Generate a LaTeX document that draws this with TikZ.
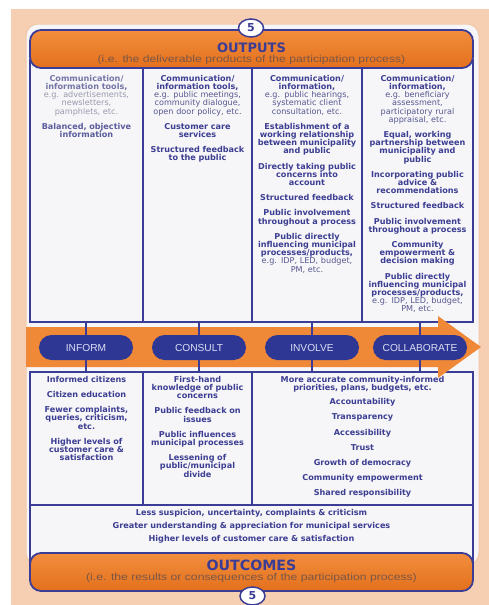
\documentclass[tikz,border=0pt]{standalone}
\usepackage{fontspec}
\usepackage{graphicx}
\setmainfont{Liberation Sans}
\newfontfamily\bodyface{DejaVu Sans}
\usetikzlibrary{shapes.geometric}

\definecolor{peach}{HTML}{F6CFB3}
\definecolor{panel}{HTML}{F6F5F8}
\definecolor{panelrim}{HTML}{F1C7A8}
\definecolor{rim}{HTML}{3A3C96}
\definecolor{pillblue}{HTML}{2E3894}
\definecolor{pilltext}{HTML}{DCDEF3}
\definecolor{ink}{HTML}{3C3E92}
\definecolor{inklight}{HTML}{7476A8}
\definecolor{inkmid}{HTML}{5A5C9C}
\definecolor{egcol}{HTML}{55588F}
\definecolor{eglight}{HTML}{9A9AAE}
\definecolor{orangeA}{HTML}{F28E3E}
\definecolor{orangeB}{HTML}{E3701C}
\definecolor{band}{HTML}{EF8837}
\definecolor{subtext}{HTML}{7A5646}

\newcommand\bodyfont{\bodyface\bfseries\fontsize{8.1}{8.2}\selectfont}
\newcommand\egstyle{\mdseries\color{egcol}}
\newcommand\firstline{\rule{0pt}{6.5pt}}
\newcommand\widesub[1]{\scalebox{1.22}[1]{#1}}

\begin{document}
\begin{tikzpicture}[x=1pt,y=-1pt,
  cell/.style={draw=rim, line width=1.5pt, fill=panel, inner sep=0pt},
  header/.style={draw=rim, line width=1.8pt, rounded corners=11pt,
    top color=orangeA, bottom color=orangeB,
    minimum width=443pt, minimum height=38pt, inner sep=0pt},
  title/.style={anchor=base, inner sep=0pt, text=rim},
  subtitle/.style={anchor=base, inner sep=0pt, text=subtext,
    font=\fontsize{10}{10}\selectfont},
  badge/.style={ellipse, draw=rim, line width=1.5pt, fill=white,
    minimum width=25pt, minimum height=18pt, inner sep=0pt, text=rim,
    font=\bodyface\bfseries\fontsize{11}{11}\selectfont},
  pill/.style={rectangle, rounded corners=12.5pt, fill=pillblue,
    minimum width=94pt, minimum height=25pt, inner sep=0pt, text=pilltext,
    font=\fontsize{10.2}{10.2}\selectfont},
  link/.style={draw=rim, line width=2pt},
  body/.style={anchor=north, inner sep=0pt, align=center, text width=#1,
    font=\bodyfont, text=ink},
]
\useasboundingbox (0,0) rectangle (489,605);

% page background and the rounded white sheet
\fill[white] (0,0) rectangle (489,605);
\fill[peach] (11,9) rectangle (489,605);
\filldraw[fill=panel, draw=panelrim, line width=1pt, rounded corners=12pt]
  (26,24) rectangle (479,565);

% output columns
\node[cell, minimum width=113pt, minimum height=262pt] (o1) at (86.5,191) {};
\node[cell, minimum width=109pt, minimum height=262pt] (o2) at (197.5,191) {};
\node[cell, minimum width=110pt, minimum height=262pt] (o3) at (307,191) {};
\node[cell, minimum width=111pt, minimum height=262pt] (o4) at (417.5,191) {};

% outcome columns and the shared row
\node[cell, minimum width=113pt, minimum height=133pt] (l1) at (86.5,438.5) {};
\node[cell, minimum width=109pt, minimum height=133pt] (l2) at (197.5,438.5) {};
\node[cell, minimum width=221pt, minimum height=133pt] (l3) at (362.5,438.5) {};
\node[cell, minimum width=443pt, minimum height=58pt] (l4) at (251.5,534) {};

% headers
\node[header] (outputs) at (251.5,49) {};
\node[title, font=\bodyface\bfseries\fontsize{13}{13}\selectfont] (outputs-t) at (251.5,52) {OUTPUTS};
\node[subtitle] (outputs-s) at (251.5,62) {\widesub{(i.e. the deliverable products of the participation process)}};

\node[header] (outcomes) at (251.5,572) {};
\node[title, font=\bodyface\bfseries\fontsize{14.2}{14.2}\selectfont] (outcomes-t) at (251.5,570) {OUTCOMES};
\node[subtitle] (outcomes-s) at (251.5,580.5) {\widesub{(i.e. the results or consequences of the participation process)}};

% the participation arrow
\fill[band] (26,327) -- (438,327) -- (438,316) -- (481,347) -- (438,378)
  -- (438,367) -- (26,367) -- cycle;

% levels of participation
\node[pill] (inform) at (86,347.5) {INFORM};
\node[pill] (consult) at (199,347.5) {CONSULT};
\node[pill] (involve) at (312,347.5) {INVOLVE};
\node[pill] (collab) at (420,347.5) {COLLABORATE};

\draw[link] (o1.south -| inform.north) -- (inform.north);
\draw[link] (o2.south -| consult.north) -- (consult.north);
\draw[link] (o3.south -| involve.north) -- (involve.north);
\draw[link] (o4.south -| collab.north) -- (collab.north);
\draw[link] (inform.south) -- (inform.south |- l1.north);
\draw[link] (consult.south) -- (consult.south |- l2.north);
\draw[link] (involve.south) -- (involve.south |- l3.north);
\draw[link] (collab.south) -- (collab.south |- l3.north);

% output texts
\node[body=111pt] (o1-text) at (86.5,74.5) {%
{\color{inklight}\firstline Communication/\\information tools,}\\
{\mdseries\color{eglight}e.g. advertisements,\\newsletters,\\pamphlets, etc.}\\[7pt]
{\color{inkmid}Balanced, objective\\information}};

\node[body=108pt] (o2-text) at (197.5,74.5) {%
\firstline Communication/\\information tools,\\
{\egstyle e.g. public meetings,\\community dialogue,\\open door policy, etc.}\\[7pt]
Customer care\\services\\[7pt]
Structured feedback\\to the public};

\node[body=109pt] (o3-text) at (307,74.5) {%
\firstline Communication/\\information,\\
{\egstyle e.g. public hearings,\\systematic client\\consultation, etc.}\\[7pt]
Establishment of a\\working relationship\\between municipality\\and public\\[7pt]
Directly taking public\\concerns into\\account\\[7pt]
Structured feedback\\[7pt]
Public involvement\\throughout a process\\[7pt]
Public directly\\influencing municipal\\processes/products,\\
{\egstyle e.g. IDP, LED, budget,\\PM, etc.}};

\node[body=110pt] (o4-text) at (417.5,74.5) {%
\firstline Communication/\\information,\\
{\egstyle e.g. beneficiary\\assessment,\\participatory rural\\appraisal, etc.}\\[7pt]
Equal, working\\partnership between\\municipality and\\public\\[7pt]
Incorporating public\\advice \&\\recommendations\\[7pt]
Structured feedback\\[7pt]
Public involvement\\throughout a process\\[7pt]
Community\\empowerment \&\\decision making\\[7pt]
Public directly\\influencing municipal\\processes/products,\\
{\egstyle e.g. IDP, LED, budget,\\PM, etc.}};

% outcome texts
\node[body=111pt] (l1-text) at (86.5,375.5) {%
\firstline Informed citizens\\[7pt]
Citizen education\\[7pt]
Fewer complaints,\\queries, criticism,\\etc.\\[7pt]
Higher levels of\\customer care \&\\satisfaction};

\node[body=108pt] (l2-text) at (197.5,375.5) {%
\firstline First-hand\\knowledge of public\\concerns\\[7pt]
Public feedback on\\issues\\[7pt]
Public influences\\municipal processes\\[7pt]
Lessening of\\public/municipal\\divide};

\node[body=217pt] (l3-text) at (362.5,375.5) {%
\firstline More accurate community-informed\\priorities, plans, budgets, etc.\\[6pt]
Accountability\\[7pt]
Transparency\\[7pt]
Accessibility\\[7pt]
Trust\\[7pt]
Growth of democracy\\[7pt]
Community empowerment\\[7pt]
Shared responsibility};

\node[body=440pt] (l4-text) at (251.5,508.5) {%
\firstline Less suspicion, uncertainty, complaints \& criticism\\[4.8pt]
Greater understanding \& appreciation for municipal services\\[4.8pt]
Higher levels of customer care \& satisfaction};

% section badges
\node[badge] (badge-top) at (251,28) {5};
\node[badge] (badge-bottom) at (252.5,596) {5};
\end{tikzpicture}
\end{document}
